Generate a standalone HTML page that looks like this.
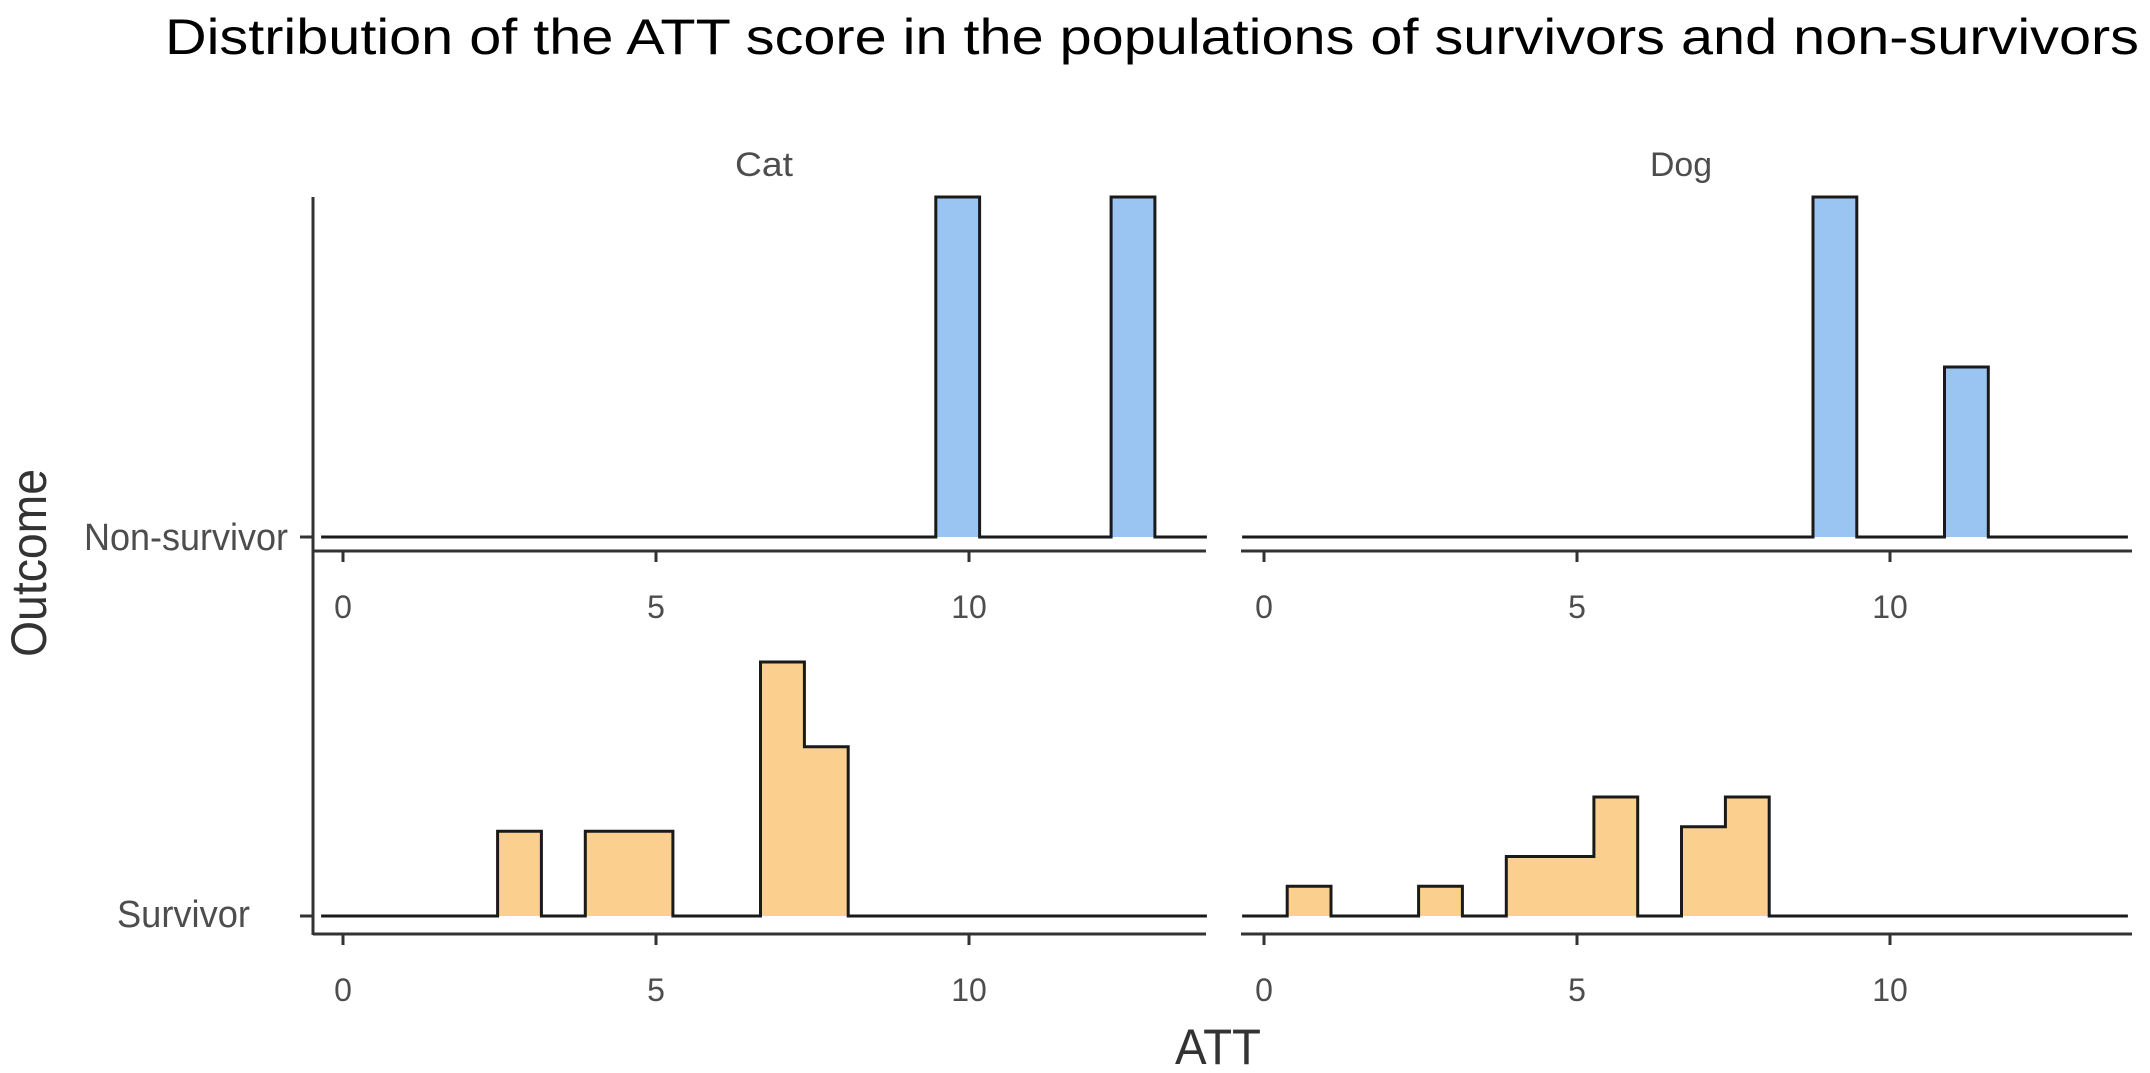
<!DOCTYPE html>
<html><head><meta charset="utf-8"><style>
html,body{margin:0;padding:0;background:#fff;}
svg{display:block;font-family:"Liberation Sans",sans-serif;}
</style></head><body>
<svg id="chart" width="2150" height="1073" viewBox="0 0 2150 1073">
<text x="1152" y="54" font-size="50" text-anchor="middle" textLength="1974" lengthAdjust="spacingAndGlyphs" fill="#000">Distribution of the ATT score in the populations of survivors and non-survivors</text>
<text x="764" y="176" font-size="34" text-anchor="middle" textLength="58" lengthAdjust="spacingAndGlyphs" fill="#4d4d4d">Cat</text>
<text x="1681" y="176" font-size="34" text-anchor="middle" textLength="62" lengthAdjust="spacingAndGlyphs" fill="#4d4d4d">Dog</text>
<text x="288" y="550" font-size="38" text-anchor="end" textLength="204" lengthAdjust="spacingAndGlyphs" fill="#4d4d4d">Non-survivor</text>
<text x="250" y="927" font-size="38" text-anchor="end" textLength="133" lengthAdjust="spacingAndGlyphs" fill="#4d4d4d">Survivor</text>
<text transform="translate(46,563) rotate(-90)" font-size="50" text-anchor="middle" textLength="188" lengthAdjust="spacingAndGlyphs" fill="#333">Outcome</text>
<text x="1218" y="1064" font-size="50" text-anchor="middle" textLength="86" lengthAdjust="spacingAndGlyphs" fill="#333">ATT</text>
<line x1="313" y1="197" x2="313" y2="935" stroke="#333" stroke-width="3"/>
<line x1="300" y1="537" x2="313" y2="537" stroke="#333" stroke-width="3"/>
<line x1="300" y1="916" x2="313" y2="916" stroke="#333" stroke-width="3"/>
<g id="plots"></g>
</svg>
<script>
// bins: start value (bin width 0.7) and counts
const binWidth = 0.7;
const catNonStarts = [9.47, 12.27];
const catNonCounts = [1, 1];
const dogNonStarts = [8.77, 10.87];
const dogNonCounts = [2, 1];
const catSurvStarts = [2.47, 3.87, 4.57, 6.67, 7.37];
const catSurvCounts = [1, 1, 1, 3, 2];
const dogSurvStarts = [0.37, 2.47, 3.87, 4.57, 5.27, 6.67, 7.37];
const dogSurvCounts = [1, 1, 2, 2, 4, 3, 4];
const xTicks = [0, 5, 10];
const xTickLabels = ["0", "5", "10"];

const NS = "http://www.w3.org/2000/svg";
const g = document.getElementById("plots");
function mk(tag, attrs){const e=document.createElementNS(NS,tag);for(const k in attrs)e.setAttribute(k,attrs[k]);g.appendChild(e);return e;}

const panels = [
  {name:"cat-non-survivor", x0:343, x1:1206, axL:313, base:537, axY:551, maxH:340, starts:catNonStarts, counts:catNonCounts, fill:"#9ac5f3", tickY:607},
  {name:"dog-non-survivor", x0:1264, x1:2132, axL:1241, base:537, axY:551, maxH:340, starts:dogNonStarts, counts:dogNonCounts, fill:"#9ac5f3", tickY:607},
  {name:"cat-survivor", x0:343, x1:1206, axL:313, base:916, axY:934, maxH:254, starts:catSurvStarts, counts:catSurvCounts, fill:"#fbd08e", tickY:990},
  {name:"dog-survivor", x0:1264, x1:2132, axL:1241, base:916, axY:934, maxH:119, starts:dogSurvStarts, counts:dogSurvCounts, fill:"#fbd08e", tickY:990}
];
const pxPerUnit = 62.6;
const lo = -0.35, hi = 13.8;

panels.forEach(p=>{
  const X = v => p.x0 + v*pxPerUnit;
  const maxC = Math.max(...p.counts);
  const Y = c => p.base - c/maxC*p.maxH;
  let pts = [[X(lo), p.base]];
  const idx = p.starts.map((s,i)=>i).sort((a,b)=>p.starts[a]-p.starts[b]);
  let prevEnd = null;
  idx.forEach((i,k)=>{
    const s=p.starts[i], e=s+binWidth;
    const contiguous = prevEnd!==null && Math.abs(prevEnd - s) < 0.05;
    if(!contiguous){ pts.push([X(s), p.base]); }
    pts.push([X(s), Y(p.counts[i])]);
    pts.push([X(e), Y(p.counts[i])]);
    const next = idx[k+1];
    const nextContig = next!==undefined && Math.abs(p.starts[next]-e) < 0.05;
    if(!nextContig){ pts.push([X(e), p.base]); }
    prevEnd = e;
  });
  pts.push([X(hi), p.base]);
  const d = "M"+pts.map(q=>q[0].toFixed(1)+","+q[1].toFixed(1)).join("L");
  const area = mk("path",{d:d+"Z",fill:p.fill,stroke:"none"});
  
  
  const line = mk("path",{d:d,fill:"none",stroke:"#1a1a1a","stroke-width":3,"stroke-linejoin":"miter"});
  
  
  const ax = mk("line",{x1:p.axL,y1:p.axY,x2:p.x1,y2:p.axY,stroke:"#333","stroke-width":3});
  
  
  xTicks.forEach((t,i)=>{
    const tk = mk("line",{x1:X(t),y1:p.axY,x2:X(t),y2:p.axY+11,stroke:"#333","stroke-width":3});
    
    
    const tl = mk("text",{x:X(t),y:p.tickY+11,"font-size":32,"text-anchor":"middle",fill:"#4d4d4d"});
    tl.textContent = xTickLabels[i];
    
    
  });
});
</script>
</body></html>
